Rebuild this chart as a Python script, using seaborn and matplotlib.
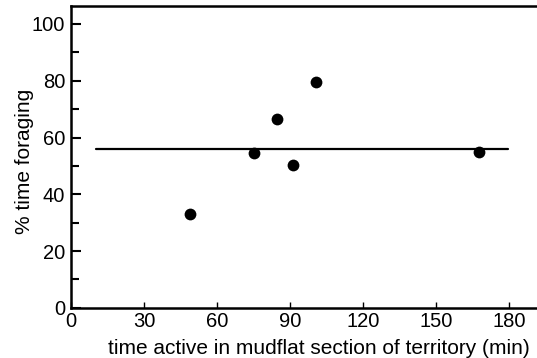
import matplotlib
matplotlib.use("Agg")
import matplotlib.pyplot as plt
import seaborn as sns
import pandas as pd
from matplotlib.ticker import MultipleLocator

# data
time_active = [48.9, 75.1, 84.5, 91.4, 100.6, 167.7]
pct_foraging = [33.0, 54.7, 66.4, 50.4, 79.6, 55.0]
line_x = [10.5, 179.5]
line_y = [56.1, 56.1]
x_ticks = [0, 30, 60, 90, 120, 150, 180]
y_ticks = [0, 20, 40, 60, 80, 100]

sns.set_style("ticks")
plt.rcParams['font.family'] = ['Liberation Sans', 'DejaVu Sans']
plt.rcParams['text.color'] = 'black'
plt.rcParams['axes.labelcolor'] = 'black'

fig = plt.figure(figsize=(5.37, 3.58), dpi=100)
ax = fig.add_axes([0.132, 0.14, 0.868, 0.843])

df = pd.DataFrame({"x": time_active, "y": pct_foraging})
ldf = pd.DataFrame({"x": line_x, "y": line_y})
sns.lineplot(data=ldf, x="x", y="y", ax=ax, color="black", linewidth=1.6)
sns.scatterplot(data=df, x="x", y="y", ax=ax, color="black", s=72, edgecolor="black", linewidth=0, zorder=3)

ax.set_xlim(0, 191.5)
ax.set_ylim(0, 106.3)
ax.set_xticks(x_ticks)
ax.set_yticks(y_ticks)
ax.yaxis.set_minor_locator(MultipleLocator(10))
ax.tick_params(axis="x", direction="in", length=4, width=1, labelsize=14.5, pad=3, colors="black")
ax.tick_params(axis="y", which="major", direction="in", length=7, width=1.5, labelsize=14.5, pad=4, colors="black")
ax.tick_params(axis="y", which="minor", direction="in", length=6, width=1.5, colors="black")
for side in ["left", "bottom", "top"]:
    ax.spines[side].set_linewidth(1.8)
    ax.spines[side].set_color("black")
ax.spines["right"].set_visible(False)
ax.set_xlabel("time active in mudflat section of territory (min)", fontsize=15, labelpad=6, color="black")
ax.set_ylabel("% time foraging", fontsize=15, labelpad=0, color="black")
ax.xaxis.set_label_coords(0.533, -0.102, transform=ax.transAxes)
ax.xaxis.label.set_va("top")
ax.yaxis.set_label_coords(-0.08, 0.487, transform=ax.transAxes)

fig.savefig("out.png", dpi=100)
